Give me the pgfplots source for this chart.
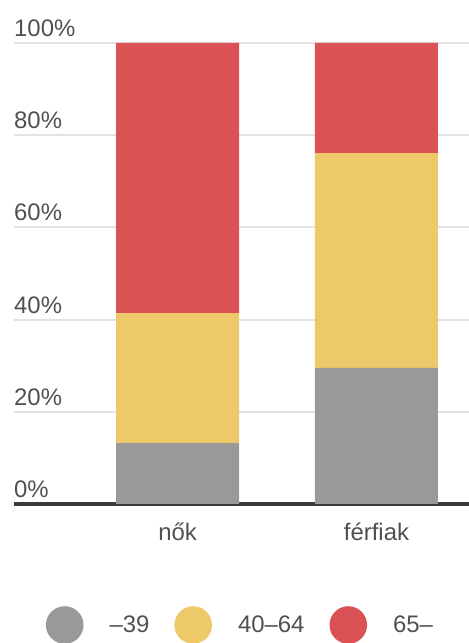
\documentclass[border=0pt]{standalone}
\usepackage{pgfplots}
\pgfplotsset{compat=1.18}
\usepackage{fontspec}
\setmainfont{Liberation Sans}
\definecolor{cgray}{HTML}{999999}
\definecolor{cyellow}{HTML}{EEC96A}
\definecolor{cred}{HTML}{DB5255}
\definecolor{ctext}{HTML}{505050}
\definecolor{cgrid}{HTML}{E2E2E2}
\definecolor{cbase}{HTML}{3C3C3C}
\begin{document}
\begin{tikzpicture}[x=1bp,y=1bp]
\useasboundingbox (0,0) rectangle (469,643);
\begin{axis}[
  at={(14bp,139bp)}, anchor=south west,
  scale only axis, width=455bp, height=461bp,
  xmin=-0.822, xmax=1.465, ymin=0, ymax=100,
  ybar stacked, bar width=123bp,
  clip=false,
  xtick={0,1}, xticklabels={nők,férfiak},
  ytick={0,20,...,100},
  yticklabel={\pgfmathprintnumber{\tick}\%},
  /pgf/number format/assume math mode=true,
  ymajorgrids, major grid style={cgrid, line width=2bp},
  axis x line*=bottom, axis y line*=left,
  y axis line style={draw=none},
  x axis line style={cbase, line width=3.5bp, -},
  tick style={draw=none},
  ticklabel style={font=\fontsize{24}{28}\selectfont, text=ctext},
  yticklabel style={anchor=base west, inner sep=0pt, yshift=6.5bp},
  xticklabel style={anchor=base, inner sep=0pt, yshift=-37bp},
  legend style={at={(0.0697,-0.2625)}, anchor=west, draw=none, fill=none,
    inner sep=0pt, legend columns=3,
    font=\fontsize{24}{28}\selectfont, text=ctext,
    nodes={inner sep=0pt},
    /tikz/every odd column/.style={column sep=26bp},
    /tikz/every even column/.style={column sep=25bp}},
  legend image code/.code={\fill[#1] (0bp,0bp) circle (18.8bp);},
]
\addplot[fill=cgray, draw=none] coordinates {(0,13.2) (1,29.5)};
\addplot[fill=cyellow, draw=none] coordinates {(0,28.2) (1,46.6)};
\addplot[fill=cred, draw=none] coordinates {(0,58.6) (1,23.9)};
\legend{–39, 40–64, 65–}
\end{axis}
\end{tikzpicture}
\end{document}
